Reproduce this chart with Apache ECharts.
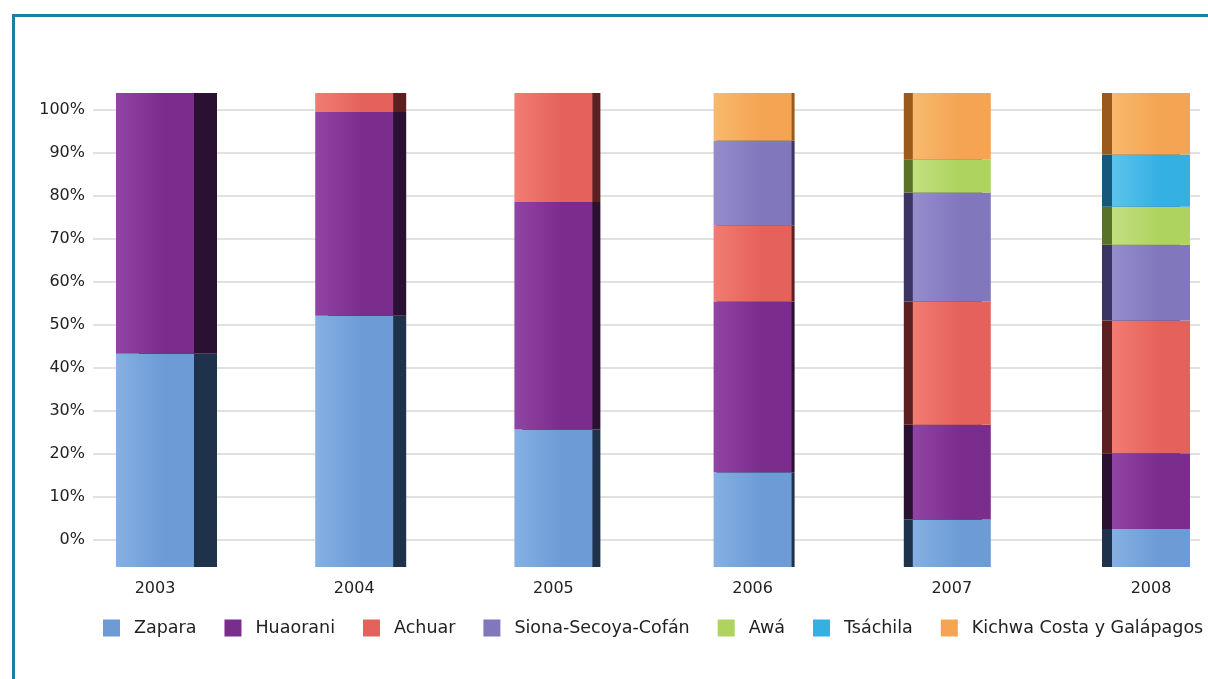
<!DOCTYPE html>
<html>
<head>
<meta charset="utf-8">
<script src="https://cdn.jsdelivr.net/npm/echarts@6/dist/echarts.min.js"></script>
<style>
  html, body { margin: 0; padding: 0; background: #fff; }
  #chart { width: 1208px; height: 679px; }
</style>
</head>
<body>
<div id="chart"></div>
<script>
// años y porcentajes por nacionalidad
const years = ['2003', '2004', '2005', '2006', '2007', '2008'];
const zapara = [45, 53, 29, 20, 10, 8];
const huaorani = [55, 43, 48, 36, 20, 16];
const achuar = [null, 4, 23, 16, 26, 28];
const siona = [null, null, null, 18, 23, 16];
const awa = [null, null, null, null, 7, 8];
const tsachila = [null, null, null, null, null, 11];
const kichwa = [null, null, null, 10, 14, 13];
const yTicks = [0, 100, 10];

const chart = echarts.init(document.getElementById('chart'));

// estilo: cara lateral del efecto 3D
const sideDepth = [23, 13, 8, 3, -9, -10];
const fontFam = '"DejaVu Sans", sans-serif';

const groups = [
  { name: 'Zapara', data: zapara, color: '#6c9bd6', light: '#86b0e2', side: '#1f324c' },
  { name: 'Huaorani', data: huaorani, color: '#7b2d8e', light: '#9044a3', side: '#2a1131' },
  { name: 'Achuar', data: achuar, color: '#e5625c', light: '#f17c72', side: '#5c2020' },
  { name: 'Siona-Secoya-Cofán', data: siona, color: '#8077bd', light: '#958dcb', side: '#3b3563' },
  { name: 'Awá', data: awa, color: '#afd35f', light: '#c3df80', side: '#5a7228' },
  { name: 'Tsáchila', data: tsachila, color: '#35b0e2', light: '#5cc4ec', side: '#17597a' },
  { name: 'Kichwa Costa y Galápagos', data: kichwa, color: '#f4a452', light: '#f8b96e', side: '#9a5a1c' }
];

const series = groups.map(g => ({
  name: g.name,
  type: 'bar',
  stack: 'total',
  xAxisIndex: 0,
  yAxisIndex: 0,
  barWidth: 78,
  clip: false,
  color: g.color,
  itemStyle: {
    color: new echarts.graphic.LinearGradient(0, 0, 1, 0, [
      { offset: 0, color: g.light },
      { offset: 0.6, color: g.color },
      { offset: 1, color: g.color }
    ]),
    shadowColor: g.side,
    shadowBlur: 0
  },
  data: g.data.map((v, i) => ({
    value: v,
    itemStyle: { shadowOffsetX: sideDepth[i] }
  }))
}));

const option = {
  animation: false,
  backgroundColor: '#fff',
  graphic: [
    {
      type: 'rect',
      left: 11, top: 13,
      shape: { width: 1400, height: 900 },
      style: { fill: 'none', stroke: '#1b7ea2', lineWidth: 3 },
      silent: true
    }
  ],
  legend: {
    left: 103,
    top: 619,
    padding: 0,
    itemWidth: 17,
    itemHeight: 17,
    itemGap: 28,
    icon: 'rect',
    textStyle: { fontFamily: fontFam, fontSize: 17.5, color: '#222', padding: [0, 0, 0, 9] },
    data: groups.map(g => ({ name: g.name, itemStyle: { color: g.color } }))
  },
  grid: [
    { left: 155, top: 93, right: 57, height: 474 },
    { left: 93, top: 110, right: 8, height: 430 }
  ],
  xAxis: [
    {
      type: 'category', gridIndex: 0, data: years, boundaryGap: false,
      axisLine: { show: false }, axisTick: { show: false },
      axisLabel: { fontFamily: fontFam, fontSize: 16, color: '#222', margin: 14 }
    },
    { type: 'category', gridIndex: 1, data: years, show: false }
  ],
  yAxis: [
    { type: 'value', gridIndex: 0, min: 0, max: 100, show: false },
    {
      type: 'value', gridIndex: 1,
      min: yTicks[0], max: yTicks[1], interval: yTicks[2],
      axisLine: { show: false }, axisTick: { show: false },
      axisLabel: { formatter: '{value}%', fontFamily: fontFam, fontSize: 16, color: '#222', margin: 8 },
      splitLine: { lineStyle: { color: '#d9d6d6', width: 1.5 } }
    }
  ],
  series: series
};

chart.setOption(option);
</script>
</body>
</html>
